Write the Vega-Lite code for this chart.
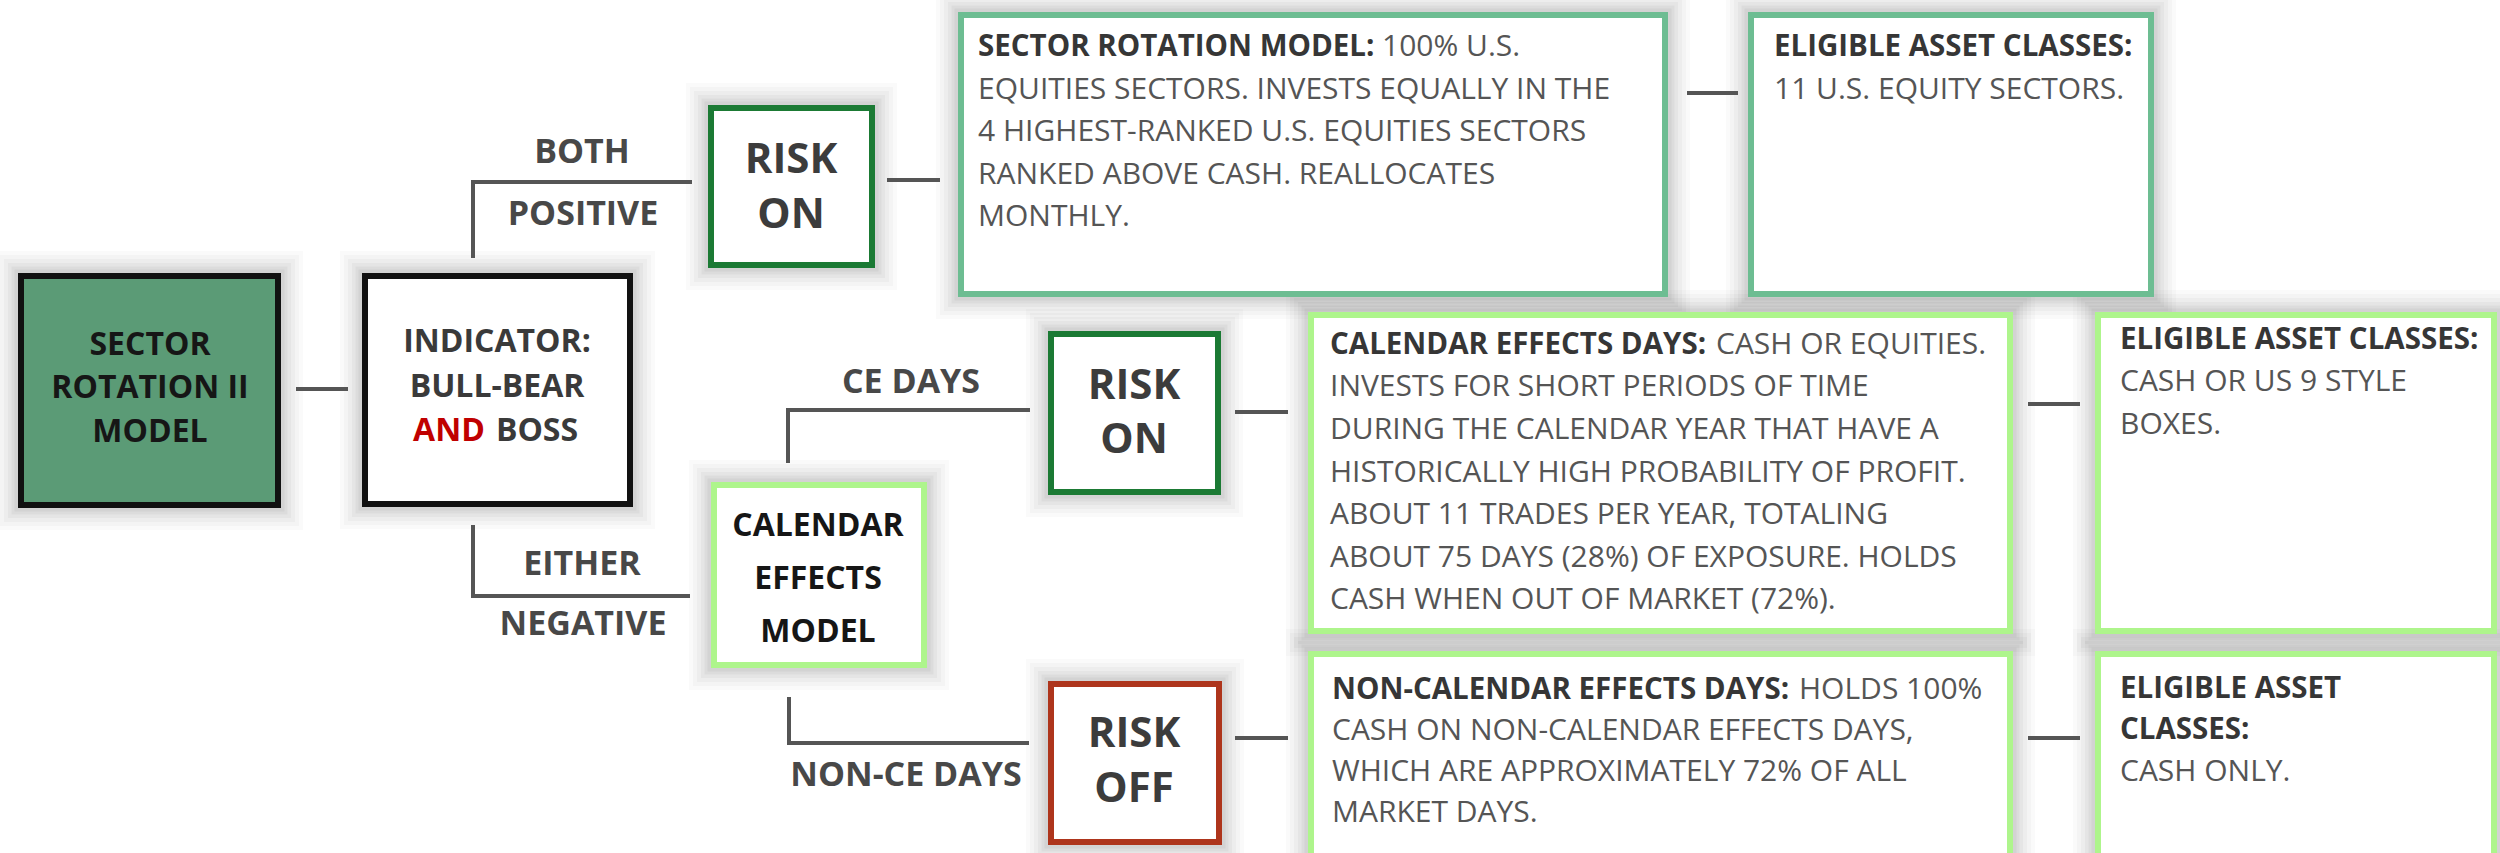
{
  "$schema": "https://vega.github.io/schema/vega-lite/v6.json",
  "width": 2500,
  "height": 853,
  "padding": 0,
  "autosize": {"type": "none"},
  "background": "#ffffff",
  "config": {"view": {"stroke": null}},
  "datasets": {
    "boxes": [
      {"id": "sr2", "x": 21, "x2": 278, "y": 276, "y2": 505, "kind": "model"},
      {"id": "ind", "x": 365, "x2": 630, "y": 276, "y2": 504, "kind": "ind"},
      {"id": "on1", "x": 711, "x2": 872, "y": 108, "y2": 265, "kind": "on"},
      {"id": "srm", "x": 961, "x2": 1665, "y": 15, "y2": 294, "kind": "srm"},
      {"id": "el1", "x": 1751, "x2": 2151, "y": 15, "y2": 294, "kind": "srm"},
      {"id": "cem", "x": 714, "x2": 924, "y": 485, "y2": 665, "kind": "ce"},
      {"id": "on2", "x": 1051, "x2": 1218, "y": 334, "y2": 492, "kind": "on"},
      {"id": "ced", "x": 1311, "x2": 2010, "y": 315, "y2": 631, "kind": "ce"},
      {"id": "el2", "x": 2098, "x2": 2494, "y": 315, "y2": 631, "kind": "ce"},
      {"id": "off", "x": 1051, "x2": 1219, "y": 684, "y2": 842, "kind": "off"},
      {"id": "nce", "x": 1311, "x2": 2010, "y": 654, "y2": 880, "kind": "ce"},
      {"id": "el3", "x": 2098, "x2": 2494, "y": 654, "y2": 880, "kind": "ce"}
    ],
    "lines": [
      {"x": 296, "x2": 348, "y": 389, "y2": 389},
      {"x": 473, "x2": 473, "y": 182, "y2": 258},
      {"x": 471, "x2": 692, "y": 182, "y2": 182},
      {"x": 473, "x2": 473, "y": 525, "y2": 596},
      {"x": 471, "x2": 690, "y": 596, "y2": 596},
      {"x": 887, "x2": 940, "y": 180, "y2": 180},
      {"x": 1687, "x2": 1738, "y": 93, "y2": 93},
      {"x": 788, "x2": 788, "y": 410, "y2": 463},
      {"x": 786, "x2": 1030, "y": 410, "y2": 410},
      {"x": 1235, "x2": 1288, "y": 412, "y2": 412},
      {"x": 2028, "x2": 2080, "y": 404, "y2": 404},
      {"x": 789, "x2": 789, "y": 697, "y2": 743},
      {"x": 787, "x2": 1029, "y": 743, "y2": 743},
      {"x": 1235, "x2": 1288, "y": 738, "y2": 738},
      {"x": 2028, "x2": 2080, "y": 738, "y2": 738}
    ],
    "texts": [
      {"t": "SECTOR", "x": 150, "y": 345, "k": "title"},
      {"t": "ROTATION II", "x": 150, "y": 388, "k": "title"},
      {"t": "MODEL", "x": 150, "y": 432, "k": "title"},
      {"t": "INDICATOR:", "x": 497, "y": 342, "k": "titleg"},
      {"t": "BULL-BEAR", "x": 497, "y": 387, "k": "titleg"},
      {"t": "AND", "x": 449, "y": 431, "k": "red"},
      {"t": "BOSS", "x": 537, "y": 431, "k": "titleg"},
      {"t": "CALENDAR", "x": 818, "y": 526, "k": "title"},
      {"t": "EFFECTS", "x": 818, "y": 579, "k": "title"},
      {"t": "MODEL", "x": 818, "y": 632, "k": "title"},
      {"t": "BOTH", "x": 582, "y": 153, "k": "label"},
      {"t": "POSITIVE", "x": 583, "y": 215, "k": "label"},
      {"t": "EITHER", "x": 582, "y": 565, "k": "label"},
      {"t": "NEGATIVE", "x": 583, "y": 625, "k": "label"},
      {"t": "CE DAYS", "x": 911, "y": 383, "k": "label"},
      {"t": "NON-CE DAYS", "x": 906, "y": 776, "k": "label"},
      {"t": "RISK", "x": 791, "y": 160, "k": "risk"},
      {"t": "ON", "x": 791, "y": 215, "k": "risk"},
      {"t": "RISK", "x": 1134, "y": 386, "k": "risk"},
      {"t": "ON", "x": 1134, "y": 440, "k": "risk"},
      {"t": "RISK", "x": 1134, "y": 734, "k": "risk"},
      {"t": "OFF", "x": 1134, "y": 789, "k": "risk"},
      {"t": "SECTOR ROTATION MODEL:", "x": 978, "y": 47, "k": "bold"},
      {"t": "100% U.S.", "x": 1382, "y": 47, "k": "body"},
      {"t": "EQUITIES SECTORS. INVESTS EQUALLY IN THE", "x": 978, "y": 90, "k": "body"},
      {"t": "4 HIGHEST-RANKED U.S. EQUITIES SECTORS", "x": 978, "y": 132, "k": "body"},
      {"t": "RANKED ABOVE CASH. REALLOCATES", "x": 978, "y": 175, "k": "body"},
      {"t": "MONTHLY.", "x": 978, "y": 217, "k": "body"},
      {"t": "ELIGIBLE ASSET CLASSES:", "x": 1774, "y": 47, "k": "bold"},
      {"t": "11 U.S. EQUITY SECTORS.", "x": 1774, "y": 90, "k": "body"},
      {"t": "CALENDAR EFFECTS DAYS:", "x": 1330, "y": 345, "k": "bold"},
      {"t": "CASH OR EQUITIES.", "x": 1716, "y": 345, "k": "body"},
      {"t": "INVESTS FOR SHORT PERIODS OF TIME", "x": 1330, "y": 387, "k": "body"},
      {"t": "DURING THE CALENDAR YEAR THAT HAVE A", "x": 1330, "y": 430, "k": "body"},
      {"t": "HISTORICALLY HIGH PROBABILITY OF PROFIT.", "x": 1330, "y": 473, "k": "body"},
      {"t": "ABOUT 11 TRADES PER YEAR, TOTALING", "x": 1330, "y": 515, "k": "body"},
      {"t": "ABOUT 75 DAYS (28%) OF EXPOSURE. HOLDS", "x": 1330, "y": 558, "k": "body"},
      {"t": "CASH WHEN OUT OF MARKET (72%).", "x": 1330, "y": 600, "k": "body"},
      {"t": "ELIGIBLE ASSET CLASSES:", "x": 2120, "y": 340, "k": "bold"},
      {"t": "CASH OR US 9 STYLE", "x": 2120, "y": 382, "k": "body"},
      {"t": "BOXES.", "x": 2120, "y": 425, "k": "body"},
      {"t": "NON-CALENDAR EFFECTS DAYS:", "x": 1332, "y": 690, "k": "bold"},
      {"t": "HOLDS 100%", "x": 1799, "y": 690, "k": "body"},
      {"t": "CASH ON NON-CALENDAR EFFECTS DAYS,", "x": 1332, "y": 731, "k": "body"},
      {"t": "WHICH ARE APPROXIMATELY 72% OF ALL", "x": 1332, "y": 772, "k": "body"},
      {"t": "MARKET DAYS.", "x": 1332, "y": 813, "k": "body"},
      {"t": "ELIGIBLE ASSET", "x": 2120, "y": 689, "k": "bold"},
      {"t": "CLASSES:", "x": 2120, "y": 730, "k": "bold"},
      {"t": "CASH ONLY.", "x": 2120, "y": 772, "k": "body"}
    ]
  },
  "encoding": {
    "x": {"field": "x", "type": "quantitative", "scale": {"domain": [0, 2500], "nice": false, "zero": false}, "axis": null},
    "y": {"field": "y", "type": "quantitative", "scale": {"domain": [0, 853], "nice": false, "zero": false, "reverse": true}, "axis": null}
  },
  "layer": [
    {
      "data": {"name": "boxes"},
      "mark": {"type": "rect", "filled": false, "stroke": "#000000", "strokeOpacity": 0.02, "strokeWidth": 50},
      "encoding": {"x2": {"field": "x2"}, "y2": {"field": "y2"}}
    },
    {
      "data": {"name": "boxes"},
      "mark": {"type": "rect", "filled": false, "stroke": "#000000", "strokeOpacity": 0.023, "strokeWidth": 42},
      "encoding": {"x2": {"field": "x2"}, "y2": {"field": "y2"}}
    },
    {
      "data": {"name": "boxes"},
      "mark": {"type": "rect", "filled": false, "stroke": "#000000", "strokeOpacity": 0.026, "strokeWidth": 34},
      "encoding": {"x2": {"field": "x2"}, "y2": {"field": "y2"}}
    },
    {
      "data": {"name": "boxes"},
      "mark": {"type": "rect", "filled": false, "stroke": "#000000", "strokeOpacity": 0.03, "strokeWidth": 26},
      "encoding": {"x2": {"field": "x2"}, "y2": {"field": "y2"}}
    },
    {
      "data": {"name": "boxes"},
      "mark": {"type": "rect", "filled": false, "stroke": "#000000", "strokeOpacity": 0.034, "strokeWidth": 19},
      "encoding": {"x2": {"field": "x2"}, "y2": {"field": "y2"}}
    },
    {
      "data": {"name": "boxes"},
      "mark": {"type": "rect", "filled": false, "stroke": "#000000", "strokeOpacity": 0.04, "strokeWidth": 13},
      "encoding": {"x2": {"field": "x2"}, "y2": {"field": "y2"}}
    },
    {
      "data": {"name": "boxes"},
      "mark": {"type": "rect", "strokeWidth": 6},
      "encoding": {
        "x2": {"field": "x2"},
        "y2": {"field": "y2"},
        "fill": {"field": "kind", "type": "nominal", "legend": null,
          "scale": {"domain": ["model", "ind", "on", "off", "srm", "ce"], "range": ["#5b9b76", "#ffffff", "#ffffff", "#ffffff", "#ffffff", "#ffffff"]}},
        "stroke": {"field": "kind", "type": "nominal", "legend": null,
          "scale": {"domain": ["model", "ind", "on", "off", "srm", "ce"], "range": ["#111111", "#111111", "#1b7a34", "#ae351c", "#6dbd92", "#aef58c"]}},
        "opacity": {"value": 1}
      }
    },
    {
      "data": {"name": "lines"},
      "mark": {"type": "rule", "color": "#555555", "strokeWidth": 4},
      "encoding": {"x2": {"field": "x2"}, "y2": {"field": "y2"}}
    },
    {
      "data": {"name": "texts"},
      "transform": [{"filter": "datum.k == 'title'"}],
      "mark": {"type": "text", "font": "Open Sans", "fontWeight": "bold", "fontSize": 32, "align": "center", "baseline": "middle", "color": "#161616"},
      "encoding": {"text": {"field": "t"}}
    },
    {
      "data": {"name": "texts"},
      "transform": [{"filter": "datum.k == 'titleg'"}],
      "mark": {"type": "text", "font": "Open Sans", "fontWeight": "bold", "fontSize": 32, "align": "center", "baseline": "middle", "color": "#3a3a3a"},
      "encoding": {"text": {"field": "t"}}
    },
    {
      "data": {"name": "texts"},
      "transform": [{"filter": "datum.k == 'red'"}],
      "mark": {"type": "text", "font": "Open Sans", "fontWeight": "bold", "fontSize": 32, "align": "center", "baseline": "middle", "color": "#c00000"},
      "encoding": {"text": {"field": "t"}}
    },
    {
      "data": {"name": "texts"},
      "transform": [{"filter": "datum.k == 'label'"}],
      "mark": {"type": "text", "font": "Open Sans", "fontWeight": "bold", "fontSize": 34, "align": "center", "baseline": "middle", "color": "#484848"},
      "encoding": {"text": {"field": "t"}}
    },
    {
      "data": {"name": "texts"},
      "transform": [{"filter": "datum.k == 'risk'"}],
      "mark": {"type": "text", "font": "Open Sans", "fontWeight": "bold", "fontSize": 42, "align": "center", "baseline": "middle", "color": "#3c3c3c"},
      "encoding": {"text": {"field": "t"}}
    },
    {
      "data": {"name": "texts"},
      "transform": [{"filter": "datum.k == 'bold'"}],
      "mark": {"type": "text", "font": "Open Sans", "fontWeight": "bold", "fontSize": 29.5, "align": "left", "baseline": "middle", "color": "#363636"},
      "encoding": {"text": {"field": "t"}}
    },
    {
      "data": {"name": "texts"},
      "transform": [{"filter": "datum.k == 'body'"}],
      "mark": {"type": "text", "font": "Open Sans", "fontSize": 30, "align": "left", "baseline": "middle", "color": "#555555"},
      "encoding": {"text": {"field": "t"}}
    }
  ]
}
